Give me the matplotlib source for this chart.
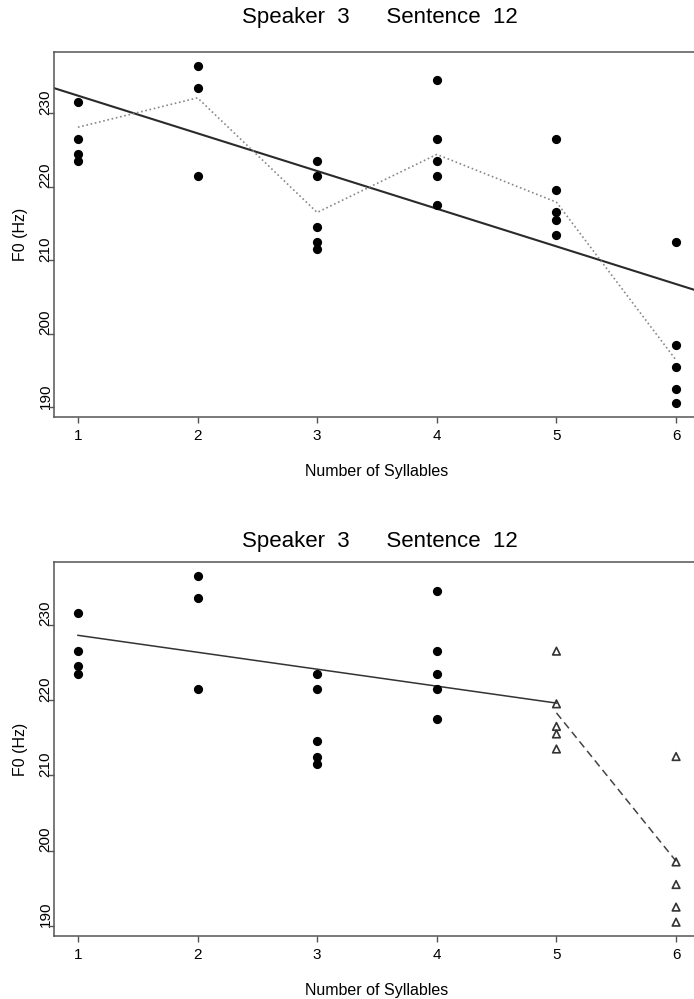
import matplotlib
matplotlib.use("Agg")
import matplotlib.pyplot as plt

plt.rcParams["font.family"] = ["Liberation Sans", "DejaVu Sans"]

# F0 (Hz) readings grouped by number of syllables
syllable_counts = [1, 2, 3, 4, 5, 6]
f0_syl1 = [230, 225, 223, 222]
f0_syl2 = [235, 232, 220]
f0_syl3 = [222, 220, 213, 211, 210]
f0_syl4 = [233, 225, 222, 220, 216]
f0_syl5 = [225, 218, 215, 214, 212]
f0_syl6 = [211, 197, 194, 191, 189]

# per-count profile (dotted) and overall linear fit, upper panel
profile_f0 = [226.6, 230.6, 215.0, 222.9, 216.4, 194.9]
fit_anchor = (1, 230.9)
fit_slope = -5.13

# piecewise fit, lower panel: 1-4 syllables, then 5-6 syllables
early_fit_x = [1, 5]
early_fit_f0 = [227.1, 218.1]
late_fit_x = [5, 6]
late_fit_f0 = [216.8, 197.1]

title = "Speaker  3      Sentence  12"
y_ticks = [190, 200, 210, 220, 230]

groups = [f0_syl1, f0_syl2, f0_syl3, f0_syl4, f0_syl5, f0_syl6]


def style_axes(ax):
    ax.set_xlim(0.8, 6.2)
    ax.set_ylim(187.16, 236.84)
    for sp in ax.spines.values():
        sp.set_color("#555555")
        sp.set_linewidth(1.1)
    ax.set_xticks(syllable_counts)
    ax.set_xticklabels([str(c) for c in syllable_counts], fontsize=11)
    ax.tick_params(axis="x", length=4.5, width=1.0, color="#555555", pad=4)
    # y labels run along the axis; short marks sit at the foot of each label
    ax.set_yticks(y_ticks)
    ax.set_yticklabels([str(t) for t in y_ticks], rotation=90, va="center",
                       fontsize=11)
    ax.tick_params(axis="y", which="major", length=0, pad=1)
    ax.set_yticks([t - 1.5 for t in y_ticks], minor=True)
    ax.tick_params(axis="y", which="minor", length=4.5, width=1.0,
                   color="#555555")
    ax.set_xlabel("Number of Syllables", fontsize=11.5, labelpad=15)
    ax.set_ylabel("F0 (Hz)", fontsize=11.5, labelpad=8)


fig = plt.figure(figsize=(6.94, 9.99), dpi=100)
left = 54 / 694
width = (700 - 54) / 694

# -- upper panel: all counts, straight fit plus profile --
ax1 = fig.add_axes([left, 1 - 417 / 999, width, (417 - 52) / 999])
for c, vals in zip(syllable_counts, groups):
    ax1.scatter([c] * len(vals), vals, s=44, color="black", zorder=3,
                linewidths=0)
ax1.axline(fit_anchor, slope=fit_slope, color="#2a2a2a", linewidth=1.5)
ax1.plot(syllable_counts, profile_f0, color="#888888", linestyle=(0, (1, 1.6)),
         linewidth=1.2)
style_axes(ax1)
fig.text(380 / 694, 1 - 18 / 999, title, ha="center", va="center",
         fontsize=16)

# -- lower panel: 1-4 as dots, 5-6 as open triangles, piecewise fit --
ax2 = fig.add_axes([left, 1 - 936 / 999, width, (936 - 562) / 999])
for c, vals in zip(syllable_counts, groups):
    if c <= 4:
        ax2.scatter([c] * len(vals), vals, s=44, color="black", zorder=3,
                    linewidths=0)
    else:
        ax2.scatter([c] * len(vals), vals, s=30, marker="^", facecolor="none",
                    edgecolor="#333333", linewidths=1.2, zorder=3)
ax2.plot(early_fit_x, early_fit_f0, color="#333333", linewidth=1.1)
ax2.plot(late_fit_x, late_fit_f0, color="#444444", linewidth=1.1,
         linestyle=(0, (5, 3)))
style_axes(ax2)
fig.text(380 / 694, 1 - 541 / 999, title, ha="center", va="center",
         fontsize=16)

fig.savefig("out.png", dpi=100)
plt.close(fig)
